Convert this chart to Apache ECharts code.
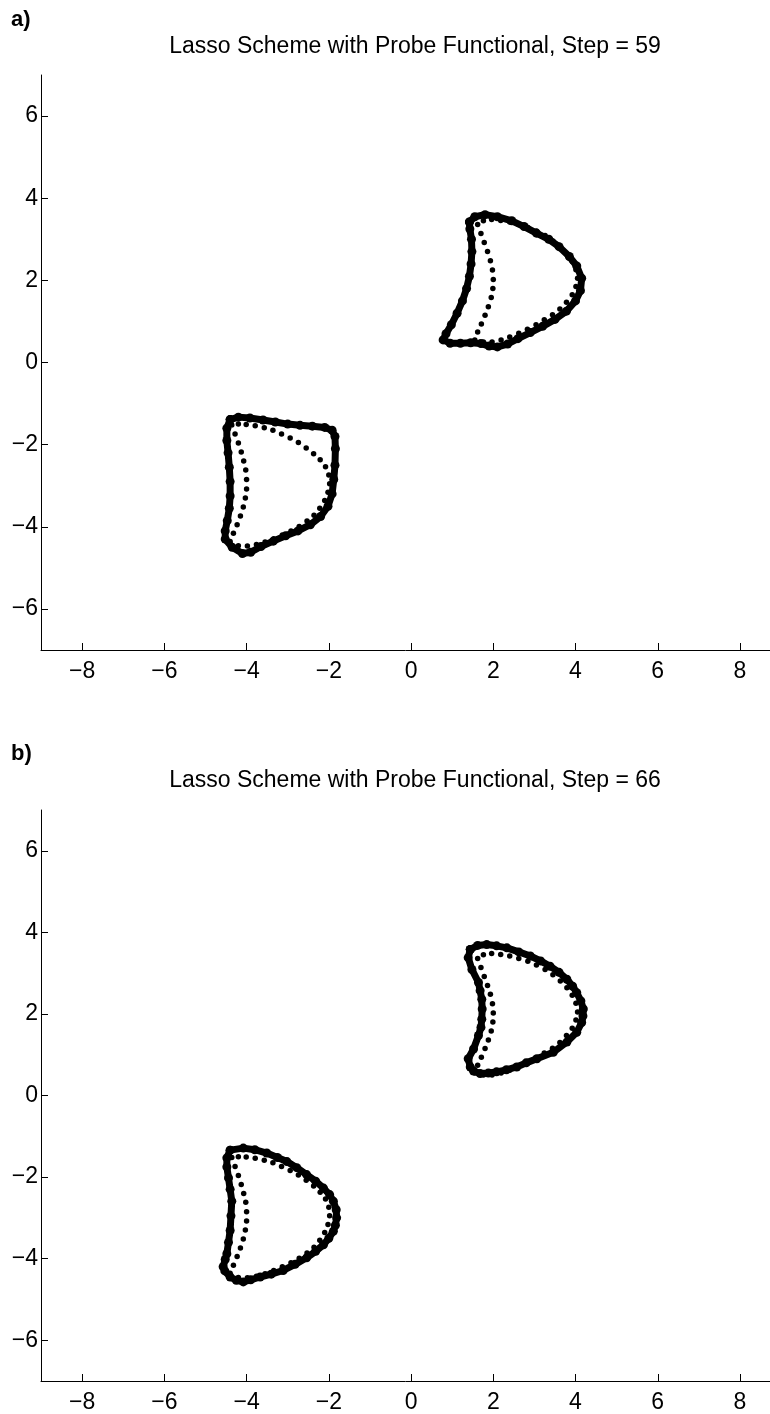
<!DOCTYPE html>
<html>
<head>
<meta charset="utf-8">
<script src="https://cdn.jsdelivr.net/npm/echarts@6/dist/echarts.min.js"></script>
<style>html,body{margin:0;padding:0;background:#fff}#c{width:770px;height:1414px}</style>
</head>
<body>
<div id="c"></div>
<script>
// ---- Data ----
const panelLabels = ['a)', 'b)'];
const panelTitles = ['Lasso Scheme with Probe Functional, Step = 59', 'Lasso Scheme with Probe Functional, Step = 66'];
const xTicks = [-8, -6, -4, -2, 0, 2, 4, 6, 8];
const yTicks = [-6, -4, -2, 0, 2, 4, 6];

// target crescents (small dots), same in both panels
const targetUpper = [
  [1.62,3.36],[1.70,3.14],[1.78,2.92],[1.86,2.70],[1.93,2.48],[1.98,2.25],[2.00,2.02],[1.99,1.80],[1.95,1.58],[1.88,1.36],[1.80,1.15],[1.71,0.94],[1.62,0.74],[1.55,0.55],
  [1.76,0.50],[1.97,0.50],[2.19,0.55],[2.40,0.62],[2.62,0.71],[2.83,0.81],[3.04,0.92],[3.24,1.04],[3.44,1.16],[3.62,1.30],[3.78,1.47],[3.92,1.65],[4.01,1.85],[4.05,2.05],
  [4.01,2.26],[3.92,2.46],[3.79,2.64],[3.63,2.81],[3.45,2.96],[3.26,3.09],[3.05,3.20],[2.84,3.29],[2.62,3.36],[2.40,3.42],[2.18,3.46],[1.96,3.48],[1.76,3.45]
];
const targetLower = [
  [-4.36,-1.52],[-4.28,-1.74],[-4.20,-1.96],[-4.13,-2.18],[-4.07,-2.40],[-4.02,-2.62],[-4.00,-2.85],[-4.00,-3.08],[-4.03,-3.30],[-4.08,-3.52],[-4.15,-3.74],[-4.23,-3.95],[-4.32,-4.16],[-4.40,-4.36],
  [-4.20,-4.46],[-3.98,-4.47],[-3.76,-4.43],[-3.55,-4.37],[-3.34,-4.29],[-3.13,-4.20],[-2.92,-4.10],[-2.72,-3.99],[-2.53,-3.86],[-2.36,-3.72],[-2.22,-3.55],[-2.10,-3.36],[-2.02,-3.16],[-1.98,-2.95],
  [-2.00,-2.74],[-2.08,-2.54],[-2.21,-2.37],[-2.37,-2.22],[-2.55,-2.08],[-2.74,-1.95],[-2.94,-1.84],[-3.15,-1.74],[-3.36,-1.65],[-3.57,-1.59],[-3.79,-1.54],[-4.01,-1.51],[-4.20,-1.50]
];

// evolving outlines (thick dotted band)
const outlineA1 = [
  [1.42,3.42],[1.55,3.55],[1.80,3.60],[2.10,3.55],[2.45,3.45],[2.75,3.31],[3.05,3.15],[3.35,3.00],[3.60,2.82],[3.85,2.58],[4.03,2.35],[4.15,2.05],[4.12,1.75],[4.00,1.50],
  [3.78,1.25],[3.50,1.05],[3.20,0.88],[2.90,0.73],[2.60,0.58],[2.35,0.45],[2.10,0.38],[1.90,0.40],[1.70,0.46],[1.45,0.48],[1.20,0.47],[0.95,0.47],[0.78,0.55],
  [0.85,0.70],[0.98,0.92],[1.12,1.20],[1.25,1.50],[1.35,1.80],[1.42,2.10],[1.46,2.40],[1.48,2.70],[1.47,3.00],[1.43,3.25],[1.42,3.42]
];
const outlineA2 = [
  [-4.40,-1.39],[-4.20,-1.33],[-3.92,-1.35],[-3.60,-1.40],[-3.30,-1.45],[-3.00,-1.50],[-2.70,-1.53],[-2.40,-1.55],[-2.10,-1.58],[-1.92,-1.65],[-1.85,-1.80],[-1.84,-2.10],
  [-1.85,-2.50],[-1.88,-2.85],[-1.92,-3.20],[-2.02,-3.50],[-2.20,-3.75],[-2.45,-3.95],[-2.75,-4.10],[-3.05,-4.22],[-3.35,-4.35],[-3.65,-4.48],[-3.90,-4.62],[-4.10,-4.65],
  [-4.35,-4.50],[-4.52,-4.30],[-4.52,-4.10],[-4.47,-3.85],[-4.42,-3.55],[-4.40,-3.25],[-4.40,-2.90],[-4.42,-2.55],[-4.45,-2.20],[-4.48,-1.90],[-4.48,-1.60],[-4.40,-1.39]
];
const outlineB1 = [
  [1.44,3.58],[1.62,3.68],[1.84,3.70],[2.08,3.67],[2.33,3.62],[2.62,3.52],[2.90,3.42],[3.15,3.30],[3.38,3.17],[3.60,3.02],[3.79,2.85],[3.93,2.68],[4.03,2.52],[4.13,2.32],[4.19,2.12],
  [4.18,1.95],[4.15,1.79],[4.03,1.55],[3.79,1.31],[3.46,1.06],[3.06,0.90],[2.80,0.80],[2.57,0.70],[2.32,0.63],[2.08,0.58],[1.88,0.55],[1.68,0.54],[1.52,0.60],[1.44,0.70],
  [1.39,0.90],[1.52,1.14],[1.64,1.47],[1.70,1.67],[1.72,1.87],[1.73,2.12],[1.72,2.36],[1.68,2.57],[1.64,2.77],[1.48,3.09],[1.39,3.38],[1.44,3.58]
];
const outlineB2 = [
  [-4.40,-1.34],[-4.08,-1.29],[-3.80,-1.33],[-3.51,-1.41],[-3.25,-1.52],[-3.02,-1.62],[-2.78,-1.77],[-2.54,-1.94],[-2.32,-2.10],[-2.13,-2.27],[-1.98,-2.43],[-1.89,-2.59],
  [-1.82,-2.80],[-1.81,-3.00],[-1.84,-3.18],[-1.89,-3.33],[-2.00,-3.50],[-2.13,-3.66],[-2.32,-3.82],[-2.54,-3.98],[-2.82,-4.14],[-3.11,-4.29],[-3.40,-4.38],[-3.67,-4.45],
  [-3.90,-4.52],[-4.08,-4.57],[-4.25,-4.53],[-4.40,-4.45],[-4.53,-4.30],[-4.57,-4.20],[-4.52,-4.02],[-4.48,-3.88],[-4.44,-3.60],[-4.40,-3.31],[-4.38,-2.95],[-4.36,-2.59],
  [-4.40,-2.30],[-4.44,-2.02],[-4.48,-1.75],[-4.48,-1.53],[-4.40,-1.34]
];

const outlines = [[outlineA1, outlineA2], [outlineB1, outlineB2]];
const targets = [targetUpper, targetLower];

// ---- Chart ----
const FONT = '"Liberation Sans", Arial, Helvetica, sans-serif';
const fmt = v => String(v).replace('-', '\u2212');
const grids = [
  {left: 41, top: 75, right: 0, height: 575},
  {left: 41, top: 810, right: 0, height: 574}
];
const axisCommon = {
  axisLine: {show: true, onZero: false, lineStyle: {color: '#000', width: 1}},
  axisTick: {show: true, inside: true, length: 7, lineStyle: {color: '#000', width: 1}},
  splitLine: {show: false},
  axisLabel: {color: '#000', fontFamily: FONT, fontSize: 23, formatter: fmt}
};
const xAxes = grids.map((g, i) => Object.assign({}, axisCommon, {
  type: 'value', gridIndex: i, min: -9, max: 8.73,
  axisTick: Object.assign({}, axisCommon.axisTick, {customValues: xTicks}),
  axisLabel: Object.assign({}, axisCommon.axisLabel, {customValues: xTicks, margin: 10})
}));
const yAxes = grids.map((g, i) => Object.assign({}, axisCommon, {
  type: 'value', gridIndex: i, min: -7, max: 7,
  axisTick: Object.assign({}, axisCommon.axisTick, {customValues: yTicks}),
  axisLabel: Object.assign({}, axisCommon.axisLabel, {customValues: yTicks, margin: 3})
}));
const series = [];
for (let p = 0; p < 2; p++) {
  outlines[p].forEach(d => series.push({
    type: 'line', xAxisIndex: p, yAxisIndex: p, data: d, silent: true,
    symbol: 'circle', symbolSize: 9, showSymbol: true, smooth: false,
    lineStyle: {color: '#000', width: 7, join: 'round', cap: 'round'},
    itemStyle: {color: '#000', opacity: 1}, animation: false
  }));
  targets.forEach(d => series.push({
    type: 'scatter', xAxisIndex: p, yAxisIndex: p, data: d, silent: true,
    symbol: 'circle', symbolSize: 5.5, itemStyle: {color: '#000', opacity: 1}, animation: false
  }));
}
const titles = [];
for (let p = 0; p < 2; p++) {
  titles.push({text: panelTitles[p], left: 415, top: [35, 769][p], padding: 0, textAlign: 'center',
    textStyle: {fontFamily: FONT, fontSize: 23, fontWeight: 'normal', color: '#000'}});
  titles.push({text: panelLabels[p], left: 11, top: [9, 743][p], padding: 0,
    textStyle: {fontFamily: FONT, fontSize: 22, fontWeight: 'bold', color: '#000'}});
}
const chart = echarts.init(document.getElementById('c'), null, {renderer: 'canvas'});
chart.setOption({
  backgroundColor: '#fff', animation: false,
  title: titles, grid: grids, xAxis: xAxes, yAxis: yAxes, series: series
});
</script>
</body>
</html>
